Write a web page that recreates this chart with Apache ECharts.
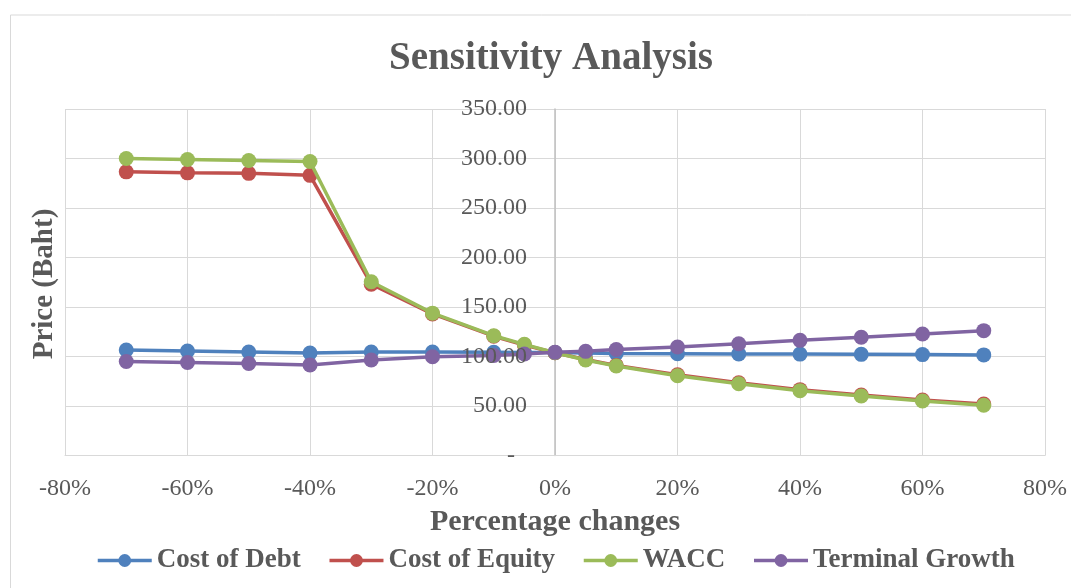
<!DOCTYPE html>
<html>
<head>
<meta charset="utf-8">
<script src="https://cdn.jsdelivr.net/npm/echarts@6/dist/echarts.min.js"></script>
<style>
  html, body { margin: 0; padding: 0; background: #ffffff; }
  #chart { width: 1071px; height: 588px; }
</style>
</head>
<body>
<div id="chart"></div>
<script>
// Percentage change applied to each input
const changes = [-70, -60, -50, -40, -30, -20, -10, -5, 0, 5, 10, 20, 30, 40, 50, 60, 70];

// Share price (Baht) for each input change
const costOfDebt     = [106.5, 105.5, 104.5, 103.5, 104.5, 104.5, 104.3, 104.1, 104.0, 103.5, 103.0, 102.8, 102.6, 102.4, 102.2, 101.9, 101.6];
const costOfEquity   = [286.5, 285.5, 285.0, 283.0, 173.0, 143.0, 120.5, 111.5, 103.8, 97.0, 91.0, 81.5, 73.5, 66.5, 61.0, 56.0, 52.0];
const wacc           = [300.0, 299.0, 298.0, 297.0, 175.5, 143.8, 121.0, 112.3, 103.8, 96.5, 90.4, 80.6, 72.5, 65.5, 60.1, 55.0, 50.7];
const terminalGrowth = [95.0, 94.0, 93.0, 91.5, 96.5, 99.8, 101.0, 102.5, 104.2, 105.2, 107.0, 109.6, 112.9, 116.3, 119.4, 122.7, 126.1];

const seriesNames = ['Cost of Debt', 'Cost of Equity', 'WACC', 'Terminal Growth'];
const seriesData = [costOfDebt, costOfEquity, wacc, terminalGrowth];
const seriesColors = ['#4f81bd', '#c0504d', '#9bbb59', '#8064a2'];

const FONT = '"Liberation Serif", "Times New Roman", serif';
const TEXT_GREY = '#595959';

// plot area geometry
const GRID_LEFT = 65, GRID_RIGHT = 26, CHART_W = 1071;
const X_MIN = -80, X_MAX = 80;
// distance from the left plot edge to the 0% line, used to place the price labels there
const ZERO_OFFSET = (CHART_W - GRID_LEFT - GRID_RIGHT) * (0 - X_MIN) / (X_MAX - X_MIN);

const chart = echarts.init(document.getElementById('chart'), null, { renderer: 'canvas' });

const series = seriesNames.map((name, i) => ({
  name: name,
  type: 'line',
  data: changes.map((c, k) => [c, seriesData[i][k]]),
  symbol: 'circle',
  symbolSize: 15,
  lineStyle: { width: 3.5, color: seriesColors[i] },
  itemStyle: { color: seriesColors[i] },
  z: 2 + i,
  animation: false
}));

const yFormatter = v => (v === 0 ? '-  ' : v.toFixed(2));

chart.setOption({
  backgroundColor: '#ffffff',
  animation: false,
  title: {
    text: 'Sensitivity Analysis',
    left: 546,
    top: 34,
    textAlign: 'center',
    textStyle: { fontFamily: FONT, fontWeight: 'bold', fontSize: 39, color: TEXT_GREY }
  },
  graphic: [
    {
      type: 'rect',
      left: 8, top: 12.5,
      shape: { width: 1100, height: 620 },
      style: { fill: 'none', stroke: '#d9d9d9', lineWidth: 1 },
      z: -10
    },
    {
      type: 'text',
      x: 45, y: 284,
      rotation: Math.PI / 2,
      style: {
        text: 'Price (Baht)',
        fontFamily: FONT, fontWeight: 'bold', fontSize: 29,
        fill: TEXT_GREY, align: 'center', verticalAlign: 'middle'
      }
    }
  ],
  legend: {
    data: seriesNames,
    left: 91,
    top: 542,
    itemWidth: 54,
    itemHeight: 16,
    itemGap: 27,
    lineStyle: { width: 3.5 },
    textStyle: { fontFamily: FONT, fontWeight: 'bold', fontSize: 27, color: TEXT_GREY }
  },
  grid: { left: GRID_LEFT, right: GRID_RIGHT, top: 109, bottom: 132.5, containLabel: false, outerBoundsMode: 'none' },
  xAxis: {
    type: 'value',
    min: X_MIN, max: X_MAX, interval: 20,
    name: 'Percentage changes',
    nameLocation: 'middle',
    nameGap: 52,
    nameTextStyle: { fontFamily: FONT, fontWeight: 'bold', fontSize: 30, color: TEXT_GREY },
    axisLine: { show: true, onZero: false, lineStyle: { color: '#d9d9d9', width: 1 } },
    axisTick: { show: false },
    axisLabel: {
      formatter: v => v + '%',
      margin: 21,
      fontFamily: FONT, fontSize: 24, color: TEXT_GREY
    },
    splitLine: { show: true, lineStyle: { color: '#d9d9d9', width: 1 } }
  },
  yAxis: [
    {
      // gridlines and the vertical axis line at 0%
      type: 'value',
      min: 0, max: 350, interval: 50,
      axisLine: { show: true, onZero: true, lineStyle: { color: '#bfbfbf', width: 1.5 } },
      axisTick: { show: false },
      axisLabel: { show: false },
      splitLine: { show: true, lineStyle: { color: '#d9d9d9', width: 1 } },
      z: 0
    },
    {
      // price labels beside the 0% line, drawn above the lines
      type: 'value',
      min: 0, max: 350, interval: 50,
      position: 'left',
      offset: -ZERO_OFFSET,
      axisLine: { show: false, onZero: false },
      axisTick: { show: false },
      axisLabel: {
        formatter: yFormatter,
        margin: 28,
        fontFamily: FONT, fontSize: 24, color: TEXT_GREY
      },
      splitLine: { show: false },
      z: 10
    }
  ],
  series: series
});
</script>
</body>
</html>
